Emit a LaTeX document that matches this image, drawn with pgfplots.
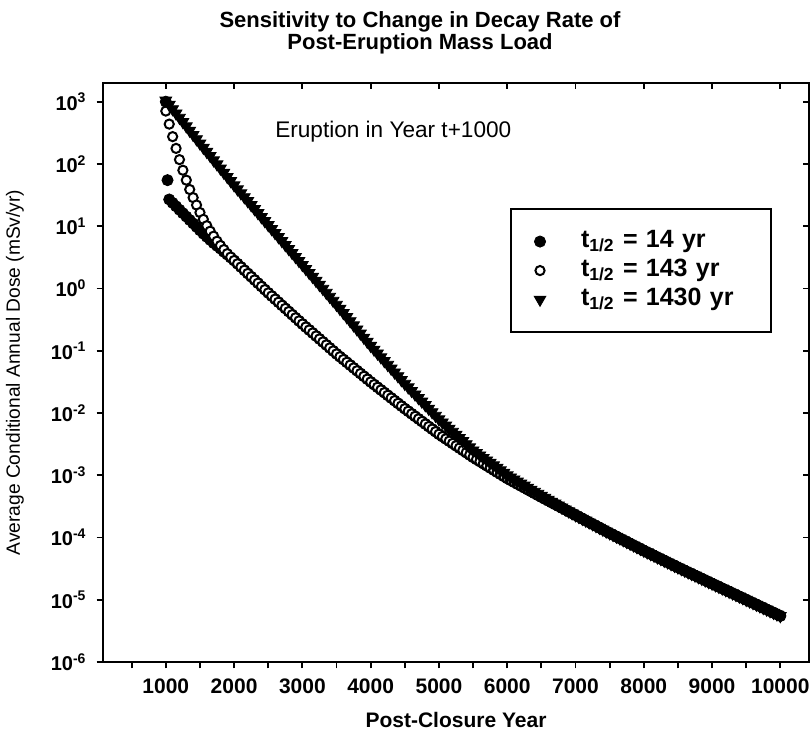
\documentclass[border=0pt]{standalone}
\usepackage{fontspec}
\setmainfont{Liberation Sans}
\usepackage{pgfplots}
\usepackage{pgfplotstable}
\pgfplotsset{compat=1.18}

% average conditional annual dose (mSv/yr), three decay half-lives
\pgfplotstableread{
year s14 s143 s1430
1000 1000 708 1047
1025 55 nan nan
1050 26.9 437 893
1100 23.7 275 762
1150 20.9 178 650
1200 18.4 117.5 555
1250 16.2 79.4 473
1300 14.3 55.0 404
1350 12.6 38.9 344
1400 11.1 28.8 294
1450 9.77 21.9 251
1500 8.61 16.6 214
1550 7.59 12.9 183
1600 6.76 10.2 157
1650 6.03 8.32 135
1700 5.37 6.92 115
1750 4.84 5.75 98.9
1800 4.37 4.90 84.7
1850 3.89 4.22 72.6
1900 3.51 3.63 62.2
1950 3.14 3.20 53.3
2000 2.818 2.818 45.7
2050 2.500 2.500 39.4
2100 2.218 2.218 34.0
2150 1.968 1.968 29.4
2200 1.746 1.746 25.4
2250 1.549 1.549 21.9
2300 1.374 1.374 18.9
2350 1.219 1.219 16.3
2400 1.081 1.081 14.06
2450 0.9594 0.9594 12.13
2500 0.8511 0.8511 10.47
2550 0.7586 0.7586 9.036
2600 0.6761 0.6761 7.798
2650 0.6026 0.6026 6.730
2700 0.5370 0.5370 5.808
2750 0.4786 0.4786 5.012
2800 0.4266 0.4266 4.325
2850 0.3802 0.3802 3.733
2900 0.3388 0.3388 3.221
2950 0.3020 0.3020 2.780
3000 0.2692 0.2692 2.399
3050 0.2410 0.2410 2.070
3100 0.2158 0.2158 1.786
3150 0.1932 0.1932 1.542
3200 0.1730 0.1730 1.330
3250 0.1549 0.1549 1.148
3300 0.1387 0.1387 0.9908
3350 0.1242 0.1242 0.8551
3400 0.1112 0.1112 0.7379
3450 0.09954 0.09954 0.6368
3500 0.08913 0.08913 0.5495
3550 0.08035 0.08035 0.4721
3600 0.07244 0.07244 0.4055
3650 0.06531 0.06531 0.3483
3700 0.05888 0.05888 0.2992
3750 0.05309 0.05309 0.2570
3800 0.04786 0.04786 0.2208
3850 0.04315 0.04315 0.1897
3900 0.03890 0.03890 0.1629
3950 0.03508 0.03508 0.1400
4000 0.03162 0.03162 0.1202
4050 0.02864 0.02864 0.1045
4100 0.02594 0.02594 0.09078
4150 0.02350 0.02350 0.07889
4200 0.02128 0.02128 0.06855
4250 0.01928 0.01928 0.05957
4300 0.01746 0.01746 0.05176
4350 0.01581 0.01581 0.04498
4400 0.01432 0.01432 0.03908
4450 0.01297 0.01297 0.03396
4500 0.01175 0.01175 0.02951
4550 0.01069 0.01069 0.02588
4600 0.009727 0.009727 0.02270
4650 0.008851 0.008851 0.01991
4700 0.008054 0.008054 0.01746
4750 0.007328 0.007328 0.01531
4800 0.006668 0.006668 0.01343
4850 0.006067 0.006067 0.01178
4900 0.005521 0.005521 0.01033
4950 0.005023 0.005023 0.009057
5000 0.004571 0.004571 0.007943
5050 0.004198 0.004198 0.007079
5100 0.003855 0.003855 0.006310
5150 0.003540 0.003540 0.005623
5200 0.003251 0.003251 0.005012
5250 0.002985 0.002985 0.004467
5300 0.002742 0.002742 0.003981
5350 0.002518 0.002518 0.003548
5400 0.002312 0.002312 0.003162
5450 0.002123 0.002123 0.002818
5500 0.001950 0.001950 0.002512
5550 0.001803 0.001803 0.002291
5600 0.001667 0.001667 0.002089
5650 0.001542 0.001542 0.001905
5700 0.001426 0.001426 0.001738
5750 0.001318 0.001318 0.001585
5800 0.001219 0.001219 0.001445
5850 0.001127 0.001127 0.001318
5900 0.001042 0.001042 0.001202
5950 9.638e-4 9.638e-4 0.001096
6000 8.913e-4 8.913e-4 0.001000
6050 8.318e-4 8.318e-4 9.268e-4
6100 7.762e-4 7.762e-4 8.590e-4
6150 7.244e-4 7.244e-4 7.962e-4
6200 6.761e-4 6.761e-4 7.379e-4
6250 6.310e-4 6.310e-4 6.839e-4
6300 5.888e-4 5.888e-4 6.339e-4
6350 5.495e-4 5.495e-4 5.875e-4
6400 5.129e-4 5.129e-4 5.445e-4
6450 4.786e-4 4.786e-4 5.047e-4
6500 4.467e-4 4.467e-4 4.677e-4
6550 4.178e-4 4.178e-4 4.355e-4
6600 3.908e-4 3.908e-4 4.055e-4
6650 3.656e-4 3.656e-4 3.776e-4
6700 3.420e-4 3.420e-4 3.516e-4
6750 3.199e-4 3.199e-4 3.273e-4
6800 2.992e-4 2.992e-4 3.048e-4
6850 2.799e-4 2.799e-4 2.838e-4
6900 2.618e-4 2.618e-4 2.642e-4
6950 2.449e-4 2.449e-4 2.460e-4
7000 2.291e-4 2.291e-4 2.291e-4
7050 2.143e-4 2.143e-4 2.143e-4
7100 2.004e-4 2.004e-4 2.004e-4
7150 1.875e-4 1.875e-4 1.875e-4
7200 1.754e-4 1.754e-4 1.754e-4
7250 1.641e-4 1.641e-4 1.641e-4
7300 1.535e-4 1.535e-4 1.535e-4
7350 1.435e-4 1.435e-4 1.435e-4
7400 1.343e-4 1.343e-4 1.343e-4
7450 1.256e-4 1.256e-4 1.256e-4
7500 1.175e-4 1.175e-4 1.175e-4
7550 1.102e-4 1.102e-4 1.102e-4
7600 1.033e-4 1.033e-4 1.033e-4
7650 9.683e-5 9.683e-5 9.683e-5
7700 9.078e-5 9.078e-5 9.078e-5
7750 8.511e-5 8.511e-5 8.511e-5
7800 7.980e-5 7.980e-5 7.980e-5
7850 7.482e-5 7.482e-5 7.482e-5
7900 7.015e-5 7.015e-5 7.015e-5
7950 6.577e-5 6.577e-5 6.577e-5
8000 6.166e-5 6.166e-5 6.166e-5
8050 5.794e-5 5.794e-5 5.794e-5
8100 5.445e-5 5.445e-5 5.445e-5
8150 5.117e-5 5.117e-5 5.117e-5
8200 4.808e-5 4.808e-5 4.808e-5
8250 4.519e-5 4.519e-5 4.519e-5
8300 4.246e-5 4.246e-5 4.246e-5
8350 3.990e-5 3.990e-5 3.990e-5
8400 3.750e-5 3.750e-5 3.750e-5
8450 3.524e-5 3.524e-5 3.524e-5
8500 3.311e-5 3.311e-5 3.311e-5
8550 3.119e-5 3.119e-5 3.119e-5
8600 2.938e-5 2.938e-5 2.938e-5
8650 2.767e-5 2.767e-5 2.767e-5
8700 2.606e-5 2.606e-5 2.606e-5
8750 2.455e-5 2.455e-5 2.455e-5
8800 2.312e-5 2.312e-5 2.312e-5
8850 2.178e-5 2.178e-5 2.178e-5
8900 2.051e-5 2.051e-5 2.051e-5
8950 1.932e-5 1.932e-5 1.932e-5
9000 1.820e-5 1.820e-5 1.820e-5
9050 1.714e-5 1.714e-5 1.714e-5
9100 1.614e-5 1.614e-5 1.614e-5
9150 1.521e-5 1.521e-5 1.521e-5
9200 1.432e-5 1.432e-5 1.432e-5
9250 1.349e-5 1.349e-5 1.349e-5
9300 1.271e-5 1.271e-5 1.271e-5
9350 1.197e-5 1.197e-5 1.197e-5
9400 1.127e-5 1.127e-5 1.127e-5
9450 1.062e-5 1.062e-5 1.062e-5
9500 1.000e-5 1.000e-5 1.000e-5
9550 9.419e-6 9.419e-6 9.419e-6
9600 8.872e-6 8.872e-6 8.872e-6
9650 8.356e-6 8.356e-6 8.356e-6
9700 7.870e-6 7.870e-6 7.870e-6
9750 7.413e-6 7.413e-6 7.413e-6
9800 6.982e-6 6.982e-6 6.982e-6
9850 6.577e-6 6.577e-6 6.577e-6
9900 6.194e-6 6.194e-6 6.194e-6
9950 5.834e-6 5.834e-6 5.834e-6
10000 5.495e-6 5.495e-6 5.495e-6
}\dosedata

\begin{document}
\begin{tikzpicture}
\begin{axis}[
    scale only axis,
    width=353pt, height=289.5pt,
    xmin=80, xmax=10420,
    ymode=log, ymin=1e-6, ymax=2000,
    axis line style={line width=1.2pt},
    tick style={line width=0.9pt, black},
    tick align=outside,
    xtick pos=left, ytick pos=left,
    major tick length=3.2pt, minor tick length=3.2pt,
    xtick={1000,2000,...,10000},
    minor xtick={500,1500,...,9500},
    scaled x ticks=false,
    ytick={1e-6,1e-5,1e-4,1e-3,1e-2,1e-1,1,10,100,1000},
    yticklabels={10\textsuperscript{-6},10\textsuperscript{-5},10\textsuperscript{-4},10\textsuperscript{-3},10\textsuperscript{-2},10\textsuperscript{-1},10\textsuperscript{0},10\textsuperscript{1},10\textsuperscript{2},10\textsuperscript{3}},
    yminorticks=false,
    /pgf/number format/assume math mode=true,
    /pgf/number format/1000 sep={},
    xticklabel style={font=\fontsize{10.5}{12}\selectfont\bfseries, yshift=-1.5pt},
    yticklabel style={font=\fontsize{10}{12}\selectfont\bfseries, xshift=-1.5pt},
    xlabel={Post-Closure Year},
    xlabel style={font=\fontsize{10.5}{12}\selectfont\bfseries, at={(axis description cs:0.5,-0.1)}, anchor=center},
    ylabel={Average Conditional Annual Dose (mSv/yr)},
    ylabel style={font=\fontsize{9.6}{11}\selectfont, at={(axis description cs:-0.1246,0.5)}, anchor=center},
    title={Sensitivity to Change in Decay Rate of\\Post-Eruption Mass Load},
    title style={font=\fontsize{11}{11}\selectfont\bfseries, align=center, at={(axis description cs:0.449,1.066)}, anchor=center},
    legend style={at={(axis description cs:0.5765,0.784)}, anchor=north west, draw=black, line width=1pt,
        font=\fontsize{12.5}{14}\selectfont\bfseries, inner xsep=1pt, inner ysep=9pt, row sep=0pt,
        nodes={inner sep=1pt, text height=9pt, text depth=3.5pt},
        /tikz/every even column/.append style={text width=93pt}},
    legend cell align=left,
    legend image code/.code={\path (0pt,0pt) (32pt,0pt); \draw[#1] plot coordinates {(13pt,0pt)};},
]
\addplot[black, only marks, mark=*, mark size=2.8pt, mark options={line width=0.4pt}]
    table[x=year, y=s14] {\dosedata};
\addlegendentry{t\textsubscript{1/2} = 14 yr}
\addplot[black, only marks, mark=*, mark size=2.3pt, mark options={draw=black, fill=white, line width=1pt}]
    table[x=year, y=s143] {\dosedata};
\addlegendentry{t\textsubscript{1/2} = 143 yr}
\addplot[black, only marks, mark=triangle*, mark size=3.4pt, mark options={rotate=180, line width=0.4pt}]
    table[x=year, y=s1430] {\dosedata};
\addlegendentry{t\textsubscript{1/2} = 1430 yr}
\node[anchor=west, font=\fontsize{11.3}{12}\selectfont] at (rel axis cs:0.234,0.9154) {Eruption in Year t+1000};
\end{axis}
% inward ticks on top and right edges
\begin{axis}[
    scale only axis,
    width=353pt, height=289.5pt,
    xmin=80, xmax=10420,
    ymode=log, ymin=1e-6, ymax=2000,
    axis x line*=top, axis y line*=right,
    axis line style={draw=none},
    tick align=inside,
    major tick length=3.2pt,
    tick style={line width=0.9pt, black},
    xtick={1000,2000,...,10000},
    scaled x ticks=false,
    ytick={1e-6,1e-5,1e-4,1e-3,1e-2,1e-1,1,10,100,1000},
    xticklabels={}, yticklabels={},
    xminorticks=false, yminorticks=false,
]
\end{axis}
\pgfresetboundingbox
\path[use as bounding box] ([shift={(-51.5pt,-35pt)}]current axis.south west) rectangle ([shift={(1pt,41.5pt)}]current axis.north east);
\end{tikzpicture}
\end{document}
